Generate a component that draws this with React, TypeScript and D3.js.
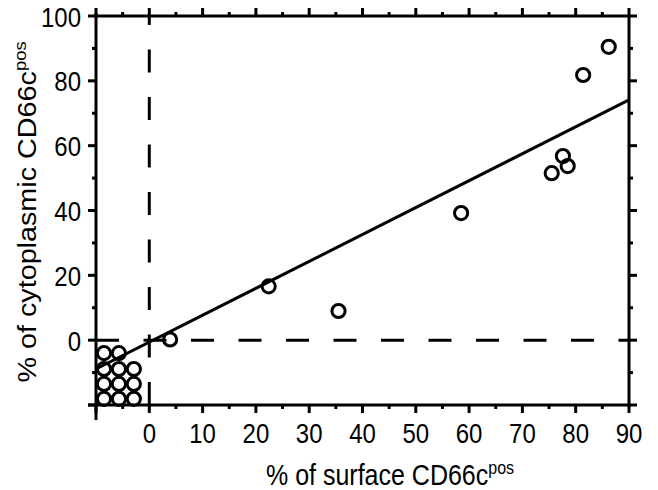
import React from "react";
import * as d3 from "d3";

// ---- data ----
const xMajorTicks = [-10, 0, 10, 20, 30, 40, 50, 60, 70, 80, 90];
const xMinorTicks = [-5, 5, 15, 25, 35, 45, 55, 65, 75, 85];
const xTickLabels = ["", "0", "10", "20", "30", "40", "50", "60", "70", "80", "90"];
const yMajorTicks = [-20, 0, 20, 40, 60, 80, 100];
const yMinorTicks = [-10, 10, 30, 50, 70, 90];
const yTickLabels = ["", "0", "20", "40", "60", "80", "100"];

const posX = [3.9, 22.4, 35.5, 58.5, 75.5, 77.6, 78.5, 81.4, 86.2];
const posY = [0.2, 16.6, 9.0, 39.2, 51.5, 56.8, 53.7, 81.8, 90.5];
const negX = [-8.5, -5.7, -8.5, -5.7, -2.9, -8.5, -5.7, -2.9, -8.5, -5.7, -2.9];
const negY = [-4.0, -4.0, -8.9, -8.9, -8.9, -13.5, -13.5, -13.5, -18.1, -18.1, -18.1];

const fitSlope = 0.83;
const fitIntercept = -0.6;
const fitRange = [-10, 90];

const xTitle = "% of surface CD66c";
const yTitle = "% of cytoplasmic CD66c";
const titleSup = "pos";

export default function App() {
  const W = 658, H = 490;
  const left = 96, right = 629, top = 16, bottom = 405;
  const x = d3.scaleLinear().domain([-10, 90]).range([left, right]);
  const y = d3.scaleLinear().domain([-20, 100]).range([bottom, top]);
  const font = "'Liberation Sans', Arial, sans-serif";
  const sw = 3;
  const maj = 8, min = 4;
  const stretch = 1.15;
  const line = d3.line<number>().x((d) => x(d)).y((d) => y(fitSlope * d + fitIntercept));
  const pts = [...posX.map((v, i) => [v, posY[i]]), ...negX.map((v, i) => [v, negY[i]])];

  return (
    <svg width={W} height={H} style={{ position: "absolute", left: 0, top: 0, background: "#fff" }}>
      <rect width={W} height={H} fill="#fff" />
      {/* dashed reference lines */}
      <line x1={x(0)} x2={x(0)} y1={bottom} y2={top} stroke="#000" strokeWidth={sw} strokeDasharray="23 24.5" />
      <line x1={left} x2={right} y1={y(0)} y2={y(0)} stroke="#000" strokeWidth={sw} strokeDasharray="23 24.5" />
      {/* fit line */}
      <path d={line(fitRange) || ""} stroke="#000" strokeWidth={sw} fill="none" />
      {/* points */}
      {pts.map((p, i) => (
        <circle key={i} cx={x(p[0])} cy={y(p[1])} r={6.6} fill="none" stroke="#000" strokeWidth={3} />
      ))}
      {/* frame */}
      <line x1={left} x2={left} y1={top - 3} y2={bottom + 15} stroke="#000" strokeWidth={sw} />
      <line x1={left - maj} x2={right + 1.5} y1={bottom} y2={bottom} stroke="#000" strokeWidth={sw} />
      <line x1={right} x2={right} y1={top} y2={bottom + 1.5} stroke="#000" strokeWidth={sw} />
      <line x1={left} x2={right + 1.5} y1={top} y2={top} stroke="#000" strokeWidth={sw} />
      {/* x ticks */}
      {xMajorTicks.map((t) => (
        <g key={"xm" + t}>
          <line x1={x(t)} x2={x(t)} y1={bottom} y2={bottom + maj} stroke="#000" strokeWidth={sw} />
          <line x1={x(t)} x2={x(t)} y1={top} y2={top - maj} stroke="#000" strokeWidth={sw} />
        </g>
      ))}
      {xMinorTicks.map((t) => (
        <g key={"xn" + t}>
          <line x1={x(t)} x2={x(t)} y1={bottom} y2={bottom + min} stroke="#000" strokeWidth={sw} />
          <line x1={x(t)} x2={x(t)} y1={top} y2={top - min} stroke="#000" strokeWidth={sw} />
        </g>
      ))}
      {xMajorTicks.map((t, i) => (
        <text key={"xl" + t} transform={`translate(${x(t)},443) scale(1,${stretch})`} textAnchor="middle" fontFamily={font} fontSize={24}>
          {xTickLabels[i]}
        </text>
      ))}
      {/* y ticks */}
      {yMajorTicks.map((t) => (
        <g key={"ym" + t}>
          <line x1={left} x2={left - maj} y1={y(t)} y2={y(t)} stroke="#000" strokeWidth={sw} />
          <line x1={right} x2={right + maj} y1={y(t)} y2={y(t)} stroke="#000" strokeWidth={sw} />
        </g>
      ))}
      {yMinorTicks.map((t) => (
        <g key={"yn" + t}>
          <line x1={left} x2={left - min} y1={y(t)} y2={y(t)} stroke="#000" strokeWidth={sw} />
          <line x1={right} x2={right + min} y1={y(t)} y2={y(t)} stroke="#000" strokeWidth={sw} />
        </g>
      ))}
      {yMajorTicks.map((t, i) => (
        <text key={"yl" + t} transform={`translate(81,${y(t) + 10.5}) scale(1,${stretch})`} textAnchor="end" fontFamily={font} fontSize={24}>
          {yTickLabels[i]}
        </text>
      ))}
      {/* titles */}
      <text transform={`translate(390,485) scale(1,${stretch})`} textAnchor="middle" fontFamily={font} fontSize={25}>
        {xTitle}
        <tspan fontSize={16} dy={-10}>{titleSup}</tspan>
      </text>
      <text transform={`translate(35.5,212) scale(1,${stretch}) rotate(-90)`} textAnchor="middle" fontFamily={font} fontSize={25}>
        {yTitle}
        <tspan fontSize={16} dy={-10}>{titleSup}</tspan>
      </text>
    </svg>
  );
}
